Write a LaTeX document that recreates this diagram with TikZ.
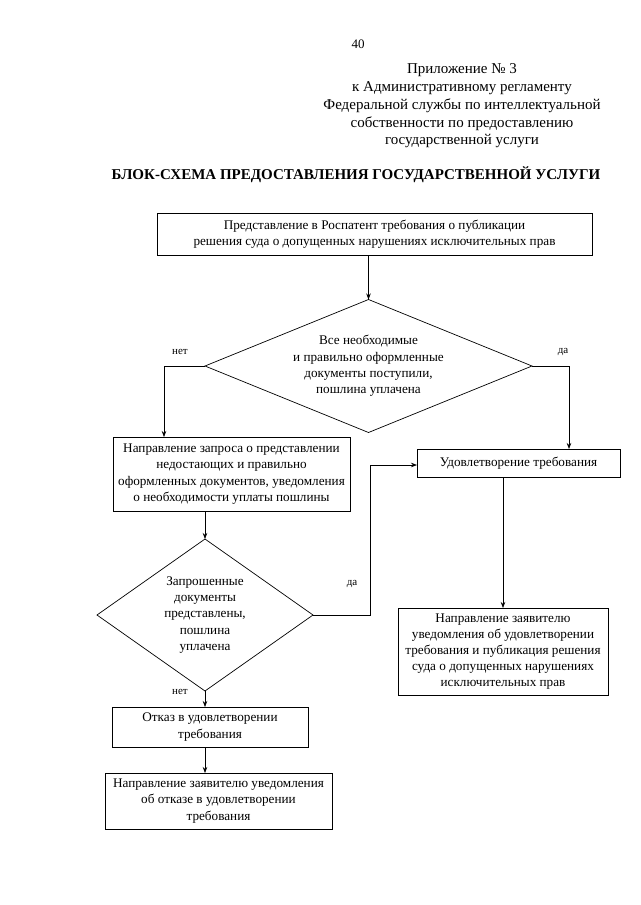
\documentclass[tikz,border=0pt]{standalone}
\usepackage{fontspec}
\setmainfont{Liberation Serif}
\usetikzlibrary{shapes.geometric,arrows.meta}
\begin{document}
\begin{tikzpicture}[x=1pt,y=-1pt,
  every node/.style={inner sep=0pt, outer sep=0pt},
  boxnode/.style={draw, line width=0.7pt, align=center, font=\fontsize{13.2}{16.5}\selectfont},
  decision/.style={draw, shape=diamond, line width=0.7pt, align=center, font=\fontsize{13.2}{16.3}\selectfont},
  conn/.style={line width=0.7pt, -{Stealth[length=6pt,width=4.5pt]}},
  lbl/.style={font=\fontsize{11}{13}\selectfont}]
\useasboundingbox (0,0) rectangle (640,905);
\fill[white] (0,0) rectangle (640,905);

\node[font=\fontsize{13}{15}\selectfont] (pg) at (358,44) {40};
\node[align=center, font=\fontsize{15}{17.8}\selectfont] (app) at (462,106)
  {Приложение № 3\\к Административному регламенту\\Федеральной службы по интеллектуальной\\собственности по предоставлению\\государственной услуги};
\node[font=\bfseries\fontsize{15}{18}\selectfont] (title) at (356,175)
  {БЛОК-СХЕМА ПРЕДОСТАВЛЕНИЯ ГОСУДАРСТВЕННОЙ УСЛУГИ};

\node[boxnode, minimum width=435pt, minimum height=42pt] (b1) at (374.5,234)
  {Представление в Роспатент требования о публикации\\решения суда о допущенных нарушениях исключительных прав};
\node[decision, minimum width=327pt, minimum height=133pt, aspect=2.46] (d1) at (368.5,366)
  {Все необходимые\\и правильно оформленные\\документы поступили,\\пошлина уплачена};
\node[boxnode, minimum width=237pt, minimum height=74pt] (b2) at (231.5,474)
  {Направление запроса о представлении\\недостающих и правильно\\оформленных документов, уведомления\\о необходимости уплаты пошлины};
\node[boxnode, minimum width=203pt, minimum height=28pt] (b3) at (518.5,463)
  {Удовлетворение требования};
\node[decision, minimum width=216pt, minimum height=152pt, aspect=1.42] (d2) at (205,615)
  {Запрошенные\\документы\\представлены,\\пошлина\\уплачена};
\node[boxnode, minimum width=210pt, minimum height=87pt, font=\fontsize{13.2}{16.2}\selectfont] (b4) at (503,651.5)
  {Направление заявителю\\уведомления об удовлетворении\\требования и публикация решения\\суда о допущенных нарушениях\\исключительных прав};
\node[boxnode, minimum width=196pt, minimum height=40pt] (b5) at (210,727)
  {Отказ в удовлетворении\\требования};
\node[boxnode, minimum width=227pt, minimum height=56pt] (b6) at (218.5,801)
  {Направление заявителю уведомления\\об отказе в удовлетворении\\требования};

\node[lbl] (l1) at (180,352) {нет};
\node[lbl] (l2) at (563,352) {да};
\node[lbl] (l3) at (352,584) {да};
\node[lbl] (l4) at (180,692) {нет};

\draw[conn] (d1.north |- b1.south) -- (d1.north);
\draw[conn] (d1.west) -| ([xshift=51pt]b2.north west);
\draw[conn] (d1.east) -| ([xshift=-51pt]b3.north east);
\draw[conn] (d2.north |- b2.south) -- (d2.north);
\draw[conn] (d2.east) -- ++(57,0) |- ([yshift=-2pt]b3.west);
\draw[conn] (b4.north |- b3.south) -- (b4.north);
\draw[conn] (d2.south) -- (d2.south |- b5.north);
\draw[conn] (d2.south |- b5.south) -- (d2.south |- b6.north);
\end{tikzpicture}
\end{document}
